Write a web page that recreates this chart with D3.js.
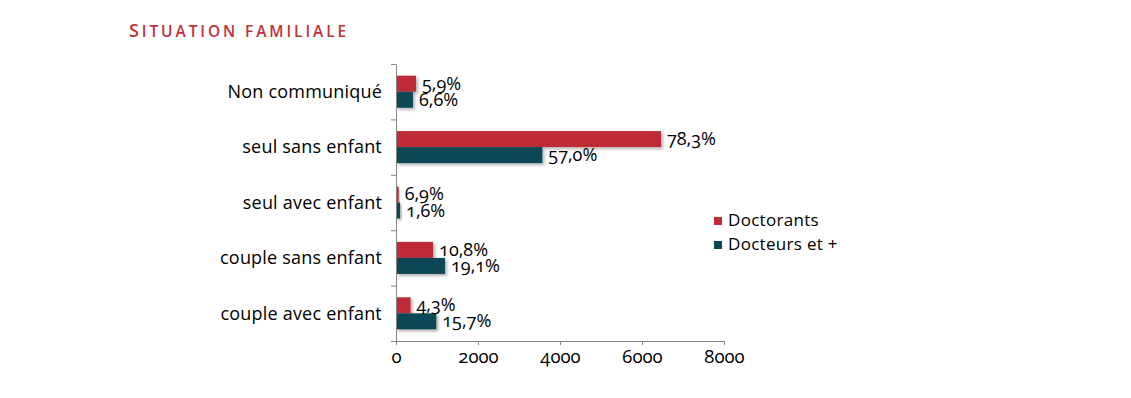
<!DOCTYPE html>
<html>
<head>
<meta charset="utf-8">
<script src="https://cdn.jsdelivr.net/npm/d3@7"></script>
<style>
  body { margin: 0; background: #ffffff; }
  svg { display: block; font-family: "Open Sans", sans-serif; }
</style>
</head>
<body>
<svg id="chart" width="1131" height="398"></svg>
<script>
// ==============================
// DATA
// ==============================

const categories = [
  "Non communiqué",
  "seul sans enfant",
  "seul avec enfant",
  "couple sans enfant",
  "couple avec enfant"
];

const seriesNames = ["Doctorants", "Docteurs et +"];

// counts
const doctorants = [488, 6463, 65, 905, 355];
const docteurs = [413, 3569, 100, 1196, 983];

// percent labels as printed on the chart
const doctorantsLabels = ["5,9%", "78,3%", "6,9%", "10,8%", "4,3%"];
const docteursLabels = ["6,6%", "57,0%", "1,6%", "19,1%", "15,7%"];

const xTicks = [0, 2000, 4000, 6000, 8000];

const colors = {
  "Doctorants": "#be2a35",
  "Docteurs et +": "#0a4655"
};

// ==============================
// SCALES
// ==============================

const svg = d3.select("#chart");

const x = d3.scaleLinear()
  .domain([0, 8000])
  .range([396, 724]);

const y = d3.scaleBand()
  .domain(categories)
  .range([64, 341])
  .padding(0);

const ySub = d3.scaleBand()
  .domain(seriesNames)
  .range([0, y.bandwidth()])
  .paddingInner(0)
  .paddingOuter(0.73);

const yIdx = d3.scaleLinear()
  .domain([0, categories.length])
  .range([64, 341]);

// Shadow under bars
const defs = svg.append("defs");
const shadow = defs.append("filter")
  .attr("id", "shadow")
  .attr("x", "-20%")
  .attr("y", "-40%")
  .attr("width", "160%")
  .attr("height", "200%");

shadow.append("feDropShadow")
  .attr("dx", 2)
  .attr("dy", 2)
  .attr("stdDeviation", 1.4)
  .attr("flood-color", "#000")
  .attr("flood-opacity", 0.3);

// ==============================
// TITLE
// ==============================

const title = svg.append("text")
  .attr("x", 129)
  .attr("y", 37)
  .attr("fill", "#c0313b")
  .attr("font-weight", 600)
  .attr("letter-spacing", "2.9px");

title.append("tspan").attr("font-size", "18px").text("S");
title.append("tspan").attr("font-size", "15.5px").text("ITUATION FAMILIALE");

// ==============================
// BARS
// ==============================

const rows = categories.map((cat, i) => ({
  cat,
  values: [
    { name: seriesNames[0], value: doctorants[i], label: doctorantsLabels[i] },
    { name: seriesNames[1], value: docteurs[i], label: docteursLabels[i] }
  ]
}));

const groups = svg.append("g")
  .attr("class", "bars")
  .selectAll("g")
  .data(rows)
  .enter()
  .append("g")
  .attr("transform", d => `translate(0,${y(d.cat)})`);

groups.selectAll("rect")
  .data(d => d.values)
  .enter()
  .append("rect")
  .attr("x", x(0))
  .attr("y", d => ySub(d.name))
  .attr("width", d => x(d.value) - x(0))
  .attr("height", ySub.bandwidth())
  .attr("fill", d => colors[d.name])
  .attr("filter", "url(#shadow)");

groups.selectAll("text")
  .data(d => d.values)
  .enter()
  .append("text")
  .attr("x", d => x(d.value) + 6)
  .attr("y", d => ySub(d.name) + ySub.bandwidth() / 2 + 6)
  .attr("font-size", "18px")
  .attr("fill", "#000")
  .style("font-variant-numeric", "oldstyle-nums")
  .text(d => d.label);

// ==============================
// AXES
// ==============================

const yAxis = svg.append("g")
  .attr("transform", `translate(${x(0)},0)`)
  .call(
    d3.axisLeft(yIdx)
      .tickValues(d3.range(categories.length + 1))
      .tickFormat("")
      .tickSize(5)
      .tickSizeOuter(0)
  );

yAxis.selectAll("path, line").attr("stroke", "#868686");

svg.append("g")
  .attr("class", "cat-labels")
  .selectAll("text")
  .data(categories)
  .enter()
  .append("text")
  .attr("x", 382)
  .attr("y", d => y(d) + y.bandwidth() / 2)
  .attr("dy", "0.35em")
  .attr("text-anchor", "end")
  .attr("font-size", "18px")
  .attr("letter-spacing", "0.2px")
  .attr("fill", "#000")
  .text(d => d);

const xAxis = svg.append("g")
  .attr("transform", "translate(0,341)")
  .call(
    d3.axisBottom(x)
      .tickValues(xTicks)
      .tickFormat(d => d)
      .tickSize(4)
      .tickSizeOuter(0)
  );

xAxis.select(".domain").attr("stroke", "#868686");
xAxis.selectAll("line").attr("stroke", "#868686");
xAxis.selectAll("text")
  .attr("y", 22)
  .attr("dy", 0)
  .attr("font-size", "18.5px")
  .attr("font-family", "Open Sans, sans-serif")
  .attr("fill", "#000")
  .style("font-variant-numeric", "oldstyle-nums");

// ==============================
// LEGEND
// ==============================

const legend = svg.append("g")
  .attr("class", "legend")
  .selectAll("g")
  .data(seriesNames)
  .enter()
  .append("g")
  .attr("transform", (d, i) => `translate(714,${217 + i * 24})`);

legend.append("rect")
  .attr("width", 8)
  .attr("height", 8)
  .attr("fill", d => colors[d]);

legend.append("text")
  .attr("x", 14)
  .attr("y", 9)
  .attr("font-size", "17px")
  .attr("letter-spacing", "0.3px")
  .attr("fill", "#000")
  .text(d => d);
</script>
</body>
</html>
